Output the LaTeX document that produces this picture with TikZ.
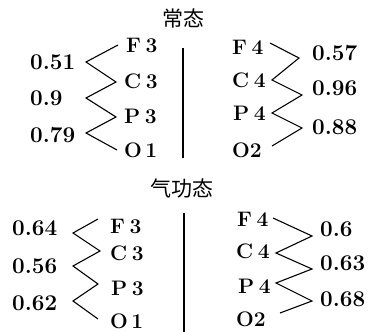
\documentclass[tikz,border=0pt]{standalone}
\usepackage{fontspec}
\newfontfamily\cjk{Noto Sans CJK SC}
\newcommand{\gp}{\hspace{4.5pt}}
\begin{document}
\begin{tikzpicture}[x=1pt,y=-1pt,
  lab/.style={inner sep=0pt,font=\fontsize{22.5}{24}\selectfont\bfseries},
  ch/.style={inner sep=0pt,font=\fontsize{21}{24}\selectfont\bfseries},
  ttl/.style={inner sep=0pt,font=\cjk\fontsize{21}{23}\selectfont},
  zz/.style={line width=1.1pt,line join=miter},
  bar/.style={line width=2.4pt}]
\useasboundingbox (0,0) rectangle (370,332);
% titles
\node[ttl] (t1) at (183,18) {常态};
\node[ttl] (t2) at (182,188) {气功态};
% bars
\coordinate (b1a) at (183,48); \coordinate (b1b) at (183,158);
\draw[bar] (b1a) -- (b1b);
\coordinate (b2a) at (184,213); \coordinate (b2b) at (184,332);
\draw[bar] (b2a) -- (b2b);
% ---- top left
\node[ch,anchor=west] (F3a) at (126,45) {F\gp3};
\node[ch,anchor=west] (C3a) at (124,81) {C\gp3};
\node[ch,anchor=west] (P3a) at (124,116) {P\gp3};
\node[ch,anchor=west] (O1a) at (124,150) {O\,1};
\node[lab,anchor=west] (v1) at (30,62) {0.51};
\node[lab,anchor=west] (v2) at (30,98) {0.9};
\node[lab,anchor=west] (v3) at (30,135) {0.79};
\coordinate (a0) at (118,45); \coordinate (a1) at (86,62);
\coordinate (a2) at (116,82); \coordinate (a3) at (86,98);
\coordinate (a4) at (116,117); \coordinate (a5) at (86,133);
\coordinate (a6) at (117,150);
\draw[zz] (a0)--(a1)--(a2)--(a3)--(a4)--(a5)--(a6);
% ---- top right
\node[ch,anchor=west] (F4a) at (232,47) {F\gp4};
\node[ch,anchor=west] (C4a) at (232,80) {C\gp4};
\node[ch,anchor=west] (P4a) at (233,113) {P\gp4};
\node[ch,anchor=west] (O2a) at (232,150) {O2};
\node[lab,anchor=west] (v4) at (312,53) {0.57};
\node[lab,anchor=west] (v5) at (312,88) {0.96};
\node[lab,anchor=west] (v6) at (312,127) {0.88};
\coordinate (b0) at (270,43); \coordinate (b1) at (299,58);
\coordinate (b2) at (272,80); \coordinate (b3) at (302,95);
\coordinate (b4) at (272,113); \coordinate (b5) at (302,128);
\coordinate (b6) at (272,146);
\draw[zz] (b0)--(b1)--(b2)--(b3)--(b4)--(b5)--(b6);
% ---- bottom left
\node[ch,anchor=west] (F3b) at (110,226) {F\gp3};
\node[ch,anchor=west] (C3b) at (110,253) {C\gp3};
\node[ch,anchor=west] (P3b) at (111,288) {P\gp3};
\node[ch,anchor=west] (O1b) at (110,321) {O\,1};
\node[lab,anchor=west] (v7) at (12,228) {0.64};
\node[lab,anchor=west] (v8) at (12,266) {0.56};
\node[lab,anchor=west] (v9) at (12,303) {0.62};
\coordinate (c0) at (98,219); \coordinate (c1) at (73,233);
\coordinate (c2) at (100,251); \coordinate (c3) at (73,266);
\coordinate (c4) at (98,284); \coordinate (c5) at (73,301);
\coordinate (c6) at (98,319);
\draw[zz] (c0)--(c1)--(c2)--(c3)--(c4)--(c5)--(c6);
% ---- bottom right
\node[ch,anchor=west] (F4b) at (237,219) {F\gp4};
\node[ch,anchor=west] (C4b) at (236,251) {C\gp4};
\node[ch,anchor=west] (P4b) at (238,286) {P\gp4};
\node[ch,anchor=west] (O2b) at (236,319) {O2};
\node[lab,anchor=west] (v10) at (320,229) {0.6};
\node[lab,anchor=west] (v11) at (320,263) {0.63};
\node[lab,anchor=west] (v12) at (320,299) {0.68};
\coordinate (d0) at (273,218); \coordinate (d1) at (312,236);
\coordinate (d2) at (276,253); \coordinate (d3) at (312,269);
\coordinate (d4) at (276,283); \coordinate (d5) at (312,301);
\coordinate (d6) at (280,313);
\draw[zz] (d0)--(d1)--(d2)--(d3)--(d4)--(d5)--(d6);
\end{tikzpicture}
\end{document}
